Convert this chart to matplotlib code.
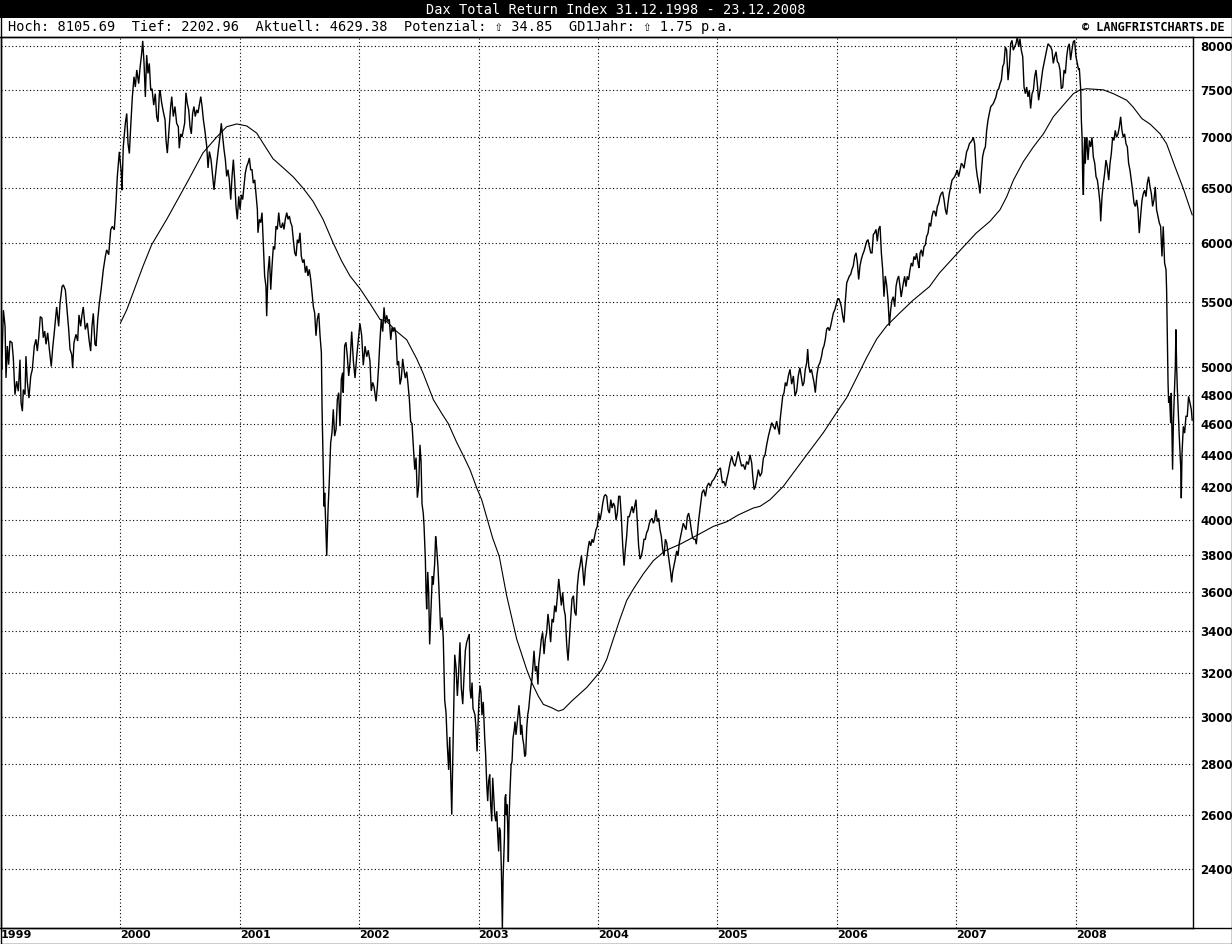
import matplotlib
matplotlib.use("Agg")
import matplotlib.pyplot as plt
from matplotlib.patches import Rectangle
from matplotlib.lines import Line2D

# Data (time in decimal years, index level)
price_t = [
    1999.000, 1999.006, 1999.020, 1999.034, 1999.042, 1999.053, 1999.064, 1999.075, 1999.092, 1999.103,
    1999.117, 1999.131, 1999.145, 1999.159, 1999.168, 1999.179, 1999.187, 1999.201, 1999.209, 1999.220,
    1999.234, 1999.249, 1999.262, 1999.279, 1999.293, 1999.304, 1999.316, 1999.329, 1999.343, 1999.354,
    1999.366, 1999.377, 1999.391, 1999.405, 1999.421, 1999.433, 1999.446, 1999.466, 1999.483, 1999.494,
    1999.511, 1999.522, 1999.539, 1999.553, 1999.567, 1999.578, 1999.592, 1999.600, 1999.611, 1999.628,
    1999.642, 1999.653, 1999.667, 1999.678, 1999.689, 1999.706, 1999.723, 1999.737, 1999.751, 1999.762,
    1999.773, 1999.787, 1999.796, 1999.810, 1999.823, 1999.838, 1999.857, 1999.874, 1999.885, 1999.902,
    1999.919, 1999.932, 1999.949, 1999.963, 1999.974, 1999.991, 2000.008, 2000.013, 2000.024, 2000.041,
    2000.053, 2000.064, 2000.075, 2000.086, 2000.100, 2000.114, 2000.125, 2000.137, 2000.153, 2000.164,
    2000.178, 2000.187, 2000.198, 2000.209, 2000.220, 2000.231, 2000.242, 2000.254, 2000.265, 2000.279,
    2000.292, 2000.304, 2000.315, 2000.326,
    2000.332, 2000.346, 2000.359, 2000.374, 2000.382, 2000.393, 2000.407, 2000.421, 2000.430, 2000.443,
    2000.457, 2000.471, 2000.485, 2000.493, 2000.505, 2000.516, 2000.527, 2000.538, 2000.549, 2000.560,
    2000.572, 2000.583, 2000.594, 2000.605, 2000.616, 2000.627, 2000.639, 2000.650, 2000.661, 2000.673,
    2000.684, 2000.695, 2000.709, 2000.723, 2000.734, 2000.745, 2000.759, 2000.773, 2000.784, 2000.795,
    2000.807, 2000.820, 2000.834, 2000.845, 2000.857, 2000.868, 2000.879, 2000.890, 2000.901, 2000.912,
    2000.924, 2000.935, 2000.946, 2000.957, 2000.968, 2000.979, 2000.991, 2001.002, 2001.013, 2001.024,
    2001.035, 2001.046, 2001.058, 2001.069, 2001.080, 2001.091, 2001.102, 2001.113, 2001.125, 2001.136,
    2001.147, 2001.152, 2001.164, 2001.175, 2001.186, 2001.197, 2001.208, 2001.219, 2001.225, 2001.236,
    2001.248, 2001.259, 2001.270, 2001.281, 2001.292, 2001.303, 2001.314, 2001.326, 2001.337, 2001.348,
    2001.359, 2001.370, 2001.381, 2001.393, 2001.404, 2001.415, 2001.426, 2001.437, 2001.448, 2001.460,
    2001.471, 2001.482, 2001.493, 2001.504, 2001.515, 2001.527, 2001.538, 2001.549, 2001.560, 2001.571,
    2001.582, 2001.594, 2001.605, 2001.616, 2001.627, 2001.638, 2001.649, 2001.661, 2001.672, 2001.683,
    2001.689, 2001.700, 2001.705, 2001.711, 2001.722, 2001.728, 2001.739, 2001.750, 2001.761, 2001.772,
    2001.783, 2001.794, 2001.806, 2001.817, 2001.828, 2001.839, 2001.850, 2001.861, 2001.866, 2001.878,
    2001.889, 2001.900, 2001.912, 2001.923,
    2001.937, 2001.951, 2001.965, 2001.979, 2001.993, 2002.006, 2002.021, 2002.034, 2002.049, 2002.063,
    2002.076, 2002.090, 2002.101, 2002.113, 2002.124, 2002.141, 2002.152, 2002.163, 2002.174, 2002.185,
    2002.197, 2002.208, 2002.219, 2002.230, 2002.241, 2002.252, 2002.264, 2002.275, 2002.286, 2002.297,
    2002.308, 2002.319, 2002.330, 2002.342, 2002.353, 2002.364, 2002.375, 2002.386, 2002.398, 2002.409,
    2002.420, 2002.431, 2002.442, 2002.453, 2002.465, 2002.476, 2002.487, 2002.498, 2002.509, 2002.518,
    2002.526, 2002.537, 2002.543, 2002.554, 2002.560, 2002.565, 2002.574, 2002.582, 2002.590, 2002.601,
    2002.612, 2002.620, 2002.632, 2002.640, 2002.648, 2002.660, 2002.671, 2002.682, 2002.693, 2002.704,
    2002.716, 2002.727, 2002.738, 2002.749, 2002.758, 2002.766, 2002.775, 2002.783, 2002.791, 2002.800,
    2002.811, 2002.822, 2002.833, 2002.844, 2002.855, 2002.867, 2002.878, 2002.889, 2002.900, 2002.911,
    2002.922,
    2002.928, 2002.936, 2002.945, 2002.953, 2002.962, 2002.970, 2002.978, 2002.987, 2002.995, 2003.003,
    2003.012, 2003.020, 2003.028, 2003.039, 2003.051, 2003.059, 2003.068, 2003.076, 2003.084, 2003.093,
    2003.101, 2003.110, 2003.118, 2003.126, 2003.135, 2003.143, 2003.152, 2003.160, 2003.168, 2003.174,
    2003.182, 2003.191, 2003.196, 2003.199, 2003.205, 2003.211, 2003.216, 2003.221, 2003.227, 2003.232,
    2003.238, 2003.244, 2003.249, 2003.255, 2003.263, 2003.272, 2003.280, 2003.288, 2003.297, 2003.305,
    2003.313, 2003.322, 2003.330, 2003.338, 2003.347, 2003.352, 2003.361, 2003.369, 2003.378, 2003.386,
    2003.394, 2003.403, 2003.411, 2003.420, 2003.430, 2003.439, 2003.447,
    2003.464, 2003.475, 2003.486, 2003.497, 2003.503, 2003.514, 2003.525, 2003.536, 2003.548, 2003.559,
    2003.570, 2003.581, 2003.592, 2003.603, 2003.615, 2003.626, 2003.637, 2003.648, 2003.659, 2003.671,
    2003.682, 2003.693, 2003.704, 2003.715, 2003.726, 2003.738, 2003.749, 2003.760, 2003.771, 2003.782,
    2003.794, 2003.805, 2003.816, 2003.827, 2003.838, 2003.849, 2003.861, 2003.872, 2003.883, 2003.894,
    2003.905, 2003.916, 2003.927, 2003.939, 2003.950, 2003.961, 2003.972, 2003.983, 2003.994, 2004.006,
    2004.017, 2004.028, 2004.040, 2004.051, 2004.062, 2004.073, 2004.084, 2004.095, 2004.107, 2004.118,
    2004.129, 2004.140, 2004.151, 2004.162, 2004.173, 2004.184, 2004.195, 2004.207, 2004.218, 2004.229,
    2004.240, 2004.251, 2004.262, 2004.274, 2004.285, 2004.296, 2004.307, 2004.318, 2004.329, 2004.340,
    2004.352, 2004.363, 2004.374, 2004.385, 2004.396, 2004.407, 2004.419, 2004.430, 2004.441, 2004.452,
    2004.463, 2004.474, 2004.486, 2004.497, 2004.508, 2004.519, 2004.530, 2004.541, 2004.553, 2004.564,
    2004.575, 2004.586, 2004.597, 2004.608, 2004.617, 2004.625, 2004.636, 2004.647, 2004.659, 2004.670,
    2004.681, 2004.692, 2004.703, 2004.714, 2004.725, 2004.737, 2004.748, 2004.759, 2004.770, 2004.781,
    2004.792, 2004.804, 2004.815, 2004.823, 2004.832, 2004.843, 2004.854, 2004.865,
    2004.871, 2004.885, 2004.899, 2004.913, 2004.927, 2004.941, 2004.955, 2004.969, 2004.983, 2004.997,
    2005.011, 2005.025, 2005.034, 2005.042, 2005.053, 2005.067, 2005.078, 2005.091, 2005.106, 2005.120,
    2005.133, 2005.147, 2005.162, 2005.175, 2005.189, 2005.203, 2005.217, 2005.231, 2005.245, 2005.259,
    2005.273, 2005.287, 2005.296, 2005.307, 2005.318, 2005.329, 2005.343, 2005.357, 2005.371, 2005.385,
    2005.399, 2005.413, 2005.427, 2005.441, 2005.455, 2005.468, 2005.482, 2005.496, 2005.510, 2005.519,
    2005.524, 2005.535, 2005.547, 2005.558, 2005.569, 2005.580, 2005.594, 2005.608, 2005.622, 2005.636,
    2005.650, 2005.664, 2005.677, 2005.691, 2005.706, 2005.714, 2005.725, 2005.736, 2005.748, 2005.756,
    2005.765, 2005.776, 2005.787, 2005.798, 2005.809, 2005.820, 2005.832, 2005.845, 2005.859, 2005.873,
    2005.882, 2005.893, 2005.904, 2005.915, 2005.927, 2005.938, 2005.949, 2005.960, 2005.971, 2005.983,
    2005.994, 2006.004, 2006.016, 2006.027, 2006.038, 2006.049, 2006.060, 2006.072, 2006.083, 2006.094,
    2006.105, 2006.116, 2006.127, 2006.138, 2006.150, 2006.161, 2006.172, 2006.183, 2006.194, 2006.205,
    2006.217, 2006.228, 2006.239, 2006.250, 2006.261, 2006.272, 2006.284, 2006.295, 2006.306, 2006.317,
    2006.328, 2006.339, 2006.350, 2006.362, 2006.373, 2006.384, 2006.395, 2006.406, 2006.417, 2006.429,
    2006.440, 2006.451, 2006.462, 2006.473, 2006.485, 2006.496, 2006.507, 2006.518, 2006.529,
    2006.539, 2006.557, 2006.568, 2006.579, 2006.590, 2006.601, 2006.613, 2006.624, 2006.635, 2006.646,
    2006.657, 2006.668, 2006.680, 2006.688, 2006.697, 2006.708, 2006.719, 2006.730, 2006.741, 2006.752,
    2006.764, 2006.775, 2006.786, 2006.797, 2006.808, 2006.819, 2006.830, 2006.842, 2006.853, 2006.864,
    2006.875, 2006.886, 2006.898, 2006.909, 2006.920, 2006.931, 2006.942, 2006.953, 2006.965, 2006.976,
    2006.987, 2006.998, 2007.009, 2007.020, 2007.032, 2007.043, 2007.054, 2007.065, 2007.076, 2007.087,
    2007.099, 2007.110, 2007.121, 2007.132, 2007.143, 2007.154, 2007.166, 2007.177, 2007.188, 2007.199,
    2007.210, 2007.221, 2007.233, 2007.244, 2007.255, 2007.266, 2007.277, 2007.289, 2007.300, 2007.311,
    2007.322, 2007.333, 2007.344, 2007.356, 2007.367, 2007.378, 2007.389, 2007.400, 2007.411, 2007.422,
    2007.434, 2007.445, 2007.456, 2007.467, 2007.478, 2007.489, 2007.500, 2007.512, 2007.523, 2007.534,
    2007.545, 2007.557, 2007.568, 2007.579, 2007.590, 2007.601, 2007.612, 2007.623, 2007.635, 2007.646,
    2007.657, 2007.668, 2007.679, 2007.690, 2007.702, 2007.713, 2007.724, 2007.735, 2007.746, 2007.757,
    2007.769, 2007.780, 2007.791, 2007.802, 2007.813, 2007.824, 2007.836, 2007.847, 2007.858, 2007.869,
    2007.880, 2007.892, 2007.903, 2007.914, 2007.925, 2007.936, 2007.947, 2007.958, 2007.969, 2007.980,
    2007.991, 2008.003, 2008.014, 2008.025,
    2008.031, 2008.043, 2008.048, 2008.054, 2008.059, 2008.065, 2008.070, 2008.076, 2008.081, 2008.087,
    2008.093, 2008.104, 2008.115, 2008.126, 2008.137, 2008.148, 2008.160, 2008.171, 2008.182, 2008.193,
    2008.204, 2008.210, 2008.221, 2008.232, 2008.243, 2008.254, 2008.265, 2008.277, 2008.288, 2008.299,
    2008.310, 2008.321, 2008.332, 2008.343, 2008.355, 2008.366, 2008.377, 2008.388, 2008.399, 2008.410,
    2008.422, 2008.433, 2008.444, 2008.455, 2008.466, 2008.477, 2008.489, 2008.500, 2008.511, 2008.522,
    2008.533, 2008.544, 2008.556, 2008.567, 2008.578, 2008.589, 2008.600, 2008.611, 2008.623, 2008.634,
    2008.645, 2008.656, 2008.667, 2008.678, 2008.690, 2008.701, 2008.712, 2008.723, 2008.734, 2008.745,
    2008.757, 2008.762, 2008.768, 2008.774, 2008.779, 2008.785, 2008.790, 2008.796, 2008.801, 2008.807,
    2008.812, 2008.818, 2008.826, 2008.835, 2008.840, 2008.846, 2008.851, 2008.860, 2008.868, 2008.880,
    2008.885, 2008.891, 2008.902, 2008.913, 2008.924, 2008.935, 2008.946, 2008.958, 2008.969, 2008.976,
]

price_v = [
    5108, 4984, 5437, 5310, 4924, 5159, 5020, 5197, 5184, 5070,
    4805, 4900, 4829, 5057, 4747, 4690, 4841, 4805, 5083, 4900,
    4781, 4936, 4984, 5159, 5210, 5121, 5222, 5386, 5373, 5222,
    5273, 5172, 5260, 5134, 5007, 5146, 5260, 5462, 5310, 5487,
    5627, 5641, 5599, 5437, 5285, 5134, 5096, 4995, 5184, 5248,
    5197, 5399, 5310, 5399, 5462, 5285, 5336, 5210, 5121, 5310,
    5411, 5172, 5159, 5361, 5487, 5599, 5769, 5881, 5938, 5896,
    6115, 6145, 6115, 6357, 6608, 6853, 6640, 6479, 6902, 7141,
    7248, 6934, 6836, 7106, 7426, 7648, 7534, 7724, 7572, 7742,
    7913, 8060, 7799, 7426, 7894, 7685, 7799, 7497, 7515, 7337,
    7461, 7213, 7160, 7457,
    7500, 7358, 7269, 7181, 6971, 6840, 7074, 7322, 7429, 7216,
    7322, 7145, 7109, 6889, 7035, 7003, 7074, 7145, 7471, 7358,
    7287, 7109, 7035, 7252, 7322, 7216, 7287, 7252, 7340, 7429,
    7322, 7181, 7056, 6905, 6693, 6856, 6775, 6611, 6482, 6611,
    6742, 6873, 7003, 7145, 7003, 6873, 6775, 6611, 6676, 6578,
    6391, 6611, 6775, 6578, 6330, 6209, 6421, 6300, 6436, 6391,
    6513, 6644, 6709, 6742, 6791, 6676, 6676, 6546, 6578, 6436,
    6300, 6088, 6209, 6179, 6270, 5997, 5715, 5630, 5389, 5743,
    5884, 5602, 5800, 5969, 5941, 6148, 6118, 6270, 6148, 6133,
    6179, 6118, 6209, 6270, 6209, 6239, 6179, 6148, 6027, 5912,
    5884, 6027, 5997, 6088, 5884, 5828, 5856, 5743, 5800, 5715,
    5771, 5686, 5574, 5464, 5414, 5237, 5364, 5414, 5237, 5111,
    4703, 4264, 4081, 4162, 3926, 3796, 4061, 4244, 4478, 4545,
    4703, 4522, 4567, 4772, 4819, 4589, 4914, 4962, 4819, 5161,
    5187, 5085, 4938, 5036,
    5269, 5047, 4923, 5079, 5206, 5332, 5237, 5016, 5158, 5079,
    5127, 5047, 4831, 4892, 4861, 4758, 4861, 5016, 5206, 5364,
    5269, 5459, 5332, 5396, 5348, 5364, 5206, 5301, 5269, 5301,
    5237, 5016, 5047, 4877, 4923, 5063, 4985, 4923, 4969, 4877,
    4772, 4619, 4606, 4465, 4306, 4382, 4133, 4205, 4465, 4357,
    4096, 4036, 3965, 3777, 3594, 3511, 3708, 3594, 3335, 3511,
    3685, 3639, 3754, 3906, 3847, 3731, 3573, 3406, 3469, 3366,
    3074, 3019, 2878, 2776, 2913, 2759, 2600, 2792, 3019, 3285,
    3224, 3093, 3204, 3345, 3130, 3056, 3185, 3305, 3345, 3366,
    3386,
    3125, 3081, 3154, 3037, 3022, 3007, 2951, 2852, 2965, 3081,
    3140, 3110, 3007, 3066, 2908, 2838, 2718, 2652, 2731, 2757,
    2639, 2575, 2744, 2678, 2600, 2575, 2613, 2526, 2464, 2551,
    2538, 2391, 2258, 2203, 2369, 2452, 2513, 2665, 2678, 2600,
    2639, 2551, 2427, 2588, 2692, 2796, 2810, 2908, 2937, 2979,
    2922, 2965, 3007, 3051, 2993, 2922, 2965, 2908, 2880, 2831,
    2838, 2951, 3007, 3037, 3096, 3140, 3169,
    3304, 3206, 3231, 3145, 3239, 3296, 3361, 3394, 3288, 3361,
    3394, 3487, 3427, 3346, 3461, 3444, 3530, 3496, 3573, 3670,
    3598, 3530, 3598, 3513, 3479, 3331, 3257, 3361, 3461, 3564,
    3581, 3496, 3479, 3634, 3706, 3742, 3796, 3724, 3634, 3724,
    3778, 3833, 3879, 3852, 3889, 3870, 3907, 3944, 3963, 4041,
    4000, 4041, 4101, 4141, 4152, 4141, 4061, 4041, 4121, 4071,
    4101, 4081, 4000, 4041, 4141, 4141, 4020, 3852, 3742, 3833,
    3907, 4020, 4020, 4051, 4081, 4041, 4081, 4121, 3991, 3852,
    3778, 3796, 3833, 3889, 3889, 3926, 3944, 3981, 4000, 4010,
    3981, 4000, 4061, 3991, 4010, 3944, 3907, 3833, 3796, 3889,
    3870, 3815, 3760, 3706, 3652, 3706, 3742, 3778, 3824, 3796,
    3870, 3907, 3944, 3981, 3963, 3944, 4020, 4041, 4000, 3944,
    3898, 3889, 3889, 3861, 3926, 4000, 4061, 4121,
    4162, 4182, 4141, 4202, 4223, 4202, 4233, 4244, 4264, 4286,
    4306, 4317, 4264, 4223, 4233, 4202, 4244, 4286, 4348, 4391,
    4348, 4327, 4379, 4422, 4369, 4327, 4338, 4306, 4358, 4338,
    4400, 4348, 4264, 4182, 4202, 4244, 4306, 4264, 4286, 4379,
    4400, 4467, 4522, 4567, 4612, 4589, 4567, 4623, 4567, 4533,
    4623, 4703, 4795, 4819, 4891, 4866, 4938, 4986, 4879, 4938,
    4795, 4831, 4938, 4998, 4914, 4866, 4891, 4986, 5036, 5136,
    5010, 4962, 4986, 4938, 4891, 4819, 4938, 5010, 5036, 5086,
    5136, 5161, 5212, 5288, 5301, 5276, 5314, 5364, 5414, 5439,
    5477, 5517, 5531, 5503, 5464, 5389, 5339, 5517, 5658, 5686,
    5715, 5729, 5771, 5800, 5884, 5912, 5828, 5686, 5800, 5856,
    5898, 5927, 5969, 6012, 6027, 5969, 5912, 5912, 6073, 6088,
    6118, 6012, 6118, 6148, 5912, 5771, 5545, 5715, 5644, 5517,
    5314, 5439, 5517, 5545, 5464, 5630, 5686, 5715, 5630,
    5542, 5655, 5712, 5627, 5712, 5684, 5769, 5825, 5797, 5881,
    5853, 5909, 5825, 5782, 5909, 5938, 5881, 5966, 5980, 6055,
    6085, 6176, 6145, 6236, 6282, 6282, 6236, 6327, 6357, 6418,
    6448, 6464, 6388, 6297, 6252, 6357, 6448, 6510, 6575, 6591,
    6608, 6640, 6673, 6608, 6673, 6739, 6722, 6690, 6772, 6853,
    6886, 6934, 6951, 6968, 7000, 6934, 6706, 6608, 6543, 6448,
    6640, 6804, 6870, 6902, 7071, 7177, 7248, 7319, 7337, 7355,
    7390, 7426, 7497, 7515, 7572, 7610, 7761, 7799, 7989, 7951,
    7610, 7761, 8026, 8066, 7951, 7989, 8026, 8106, 7989, 8085,
    7951, 7875, 7534, 7461, 7534, 7426, 7497, 7301, 7461, 7497,
    7648, 7724, 7572, 7390, 7497, 7610, 7724, 7799, 7875, 7951,
    8026, 8008, 7989, 7951, 7799, 7875, 7932, 7818, 7799, 7724,
    7515, 7534, 7724, 7685, 7875, 7989, 8026, 7837, 7951, 8047,
    8066, 7875, 7799, 7724,
    7742, 7497, 7177, 7000, 6608, 6434, 6836, 7000, 6738, 6902,
    7000, 6771, 6968, 6902, 7000, 6804, 6738, 6608, 6575, 6479,
    6357, 6191, 6418, 6543, 6640, 6771, 6706, 6575, 6738, 6836,
    7000, 6968, 7071, 7000, 7035, 7106, 7213, 7071, 7000, 7035,
    6934, 6902, 6738, 6673, 6575, 6479, 6357, 6327, 6388, 6297,
    6085, 6236, 6388, 6448, 6479, 6418, 6543, 6608, 6510, 6448,
    6327, 6388, 6510, 6297, 6236, 6176, 6145, 5881, 6145, 5825,
    5769, 5599, 5235, 4888, 4747, 4793, 4724, 4609, 4817, 4520,
    4306, 4587, 4793, 5007, 5285, 5007, 4864, 4681, 4520, 4325,
    4130, 4409, 4587, 4542, 4655, 4655, 4793, 4747, 4701, 4629,
]

# one-year moving average (GD1Jahr)
ma_t = [
    2000.003, 2000.053, 2000.106, 2000.189, 2000.262, 2000.388, 2000.555, 2000.692, 2000.807, 2000.890,
    2000.974, 2001.058, 2001.142, 2001.194, 2001.278, 2001.362, 2001.446, 2001.529, 2001.613, 2001.697,
    2001.781, 2001.853, 2001.923, 2002.007, 2002.090, 2002.174, 2002.230, 2002.314, 2002.398, 2002.482,
    2002.537, 2002.621, 2002.691, 2002.746, 2002.817, 2002.872, 2002.928, 2002.984, 2003.026, 2003.068,
    2003.118, 2003.173, 2003.235, 2003.319, 2003.403, 2003.445, 2003.500, 2003.542, 2003.612, 2003.668,
    2003.709, 2003.780, 2003.905, 2003.975, 2004.031, 2004.073, 2004.128, 2004.184, 2004.240, 2004.296,
    2004.379, 2004.463, 2004.561, 2004.687, 2004.827, 2004.966, 2005.078, 2005.175, 2005.301, 2005.357,
    2005.441, 2005.552, 2005.636, 2005.748, 2005.887, 2005.999, 2006.083, 2006.167, 2006.250, 2006.334,
    2006.418, 2006.524, 2006.636, 2006.776, 2006.859, 2006.999, 2007.167, 2007.283, 2007.367, 2007.423,
    2007.479, 2007.562, 2007.646, 2007.730, 2007.813, 2007.897, 2007.981, 2008.037, 2008.093, 2008.232,
    2008.316, 2008.428, 2008.480, 2008.555, 2008.625, 2008.708, 2008.762, 2008.832, 2008.902, 2008.976,
]
ma_v = [
    5341, 5439, 5576, 5797, 5983, 6209, 6545, 6843, 7003, 7109,
    7138, 7117, 7043, 6941, 6784, 6696, 6608, 6500, 6375, 6209,
    6000, 5841, 5715, 5610, 5490, 5364, 5348, 5270, 5206, 5063,
    4954, 4770, 4675, 4606, 4480, 4395, 4306, 4193, 4120, 4016,
    3895, 3793, 3581, 3361, 3214, 3154, 3092, 3055, 3040, 3025,
    3032, 3070, 3131, 3176, 3214, 3263, 3361, 3461, 3556, 3616,
    3697, 3769, 3824, 3861, 3911, 3963, 3990, 4030, 4071, 4081,
    4121, 4202, 4286, 4400, 4545, 4682, 4784, 4927, 5073, 5212,
    5314, 5412, 5514, 5627, 5740, 5896, 6085, 6191, 6297, 6418,
    6575, 6755, 6902, 7035, 7213, 7337, 7461, 7503, 7515, 7503,
    7461, 7390, 7319, 7194, 7135, 7035, 6934, 6706, 6494, 6250,
]

years = list(range(1999, 2009))
y_ticks = [2400, 2600, 2800, 3000, 3200, 3400, 3600, 3800, 4000, 4200, 4400,
           4600, 4800, 5000, 5500, 6000, 6500, 7000, 7500, 8000]

title = "Dax Total Return Index 31.12.1998 - 23.12.2008"
stats = "Hoch: 8105.69  Tief: 2202.96  Aktuell: 4629.38  Potenzial: \u21e7 34.85  GD1Jahr: \u21e7 1.75 p.a."
copyright_txt = "\u00a9 LANGFRISTCHARTS.DE"

W, H = 1232, 944
fig = plt.figure(figsize=(W / 100, H / 100), dpi=100)
fig.patch.set_facecolor("white")

ax = fig.add_axes([1 / W, (H - 928) / H, 1192 / W, (928 - 37) / H])
ax.plot(price_t, price_v, color="black", lw=1.0, solid_joinstyle="miter")
ax.plot(ma_t, ma_v, color="black", lw=0.8)

ax.set_yscale("log")
ax.set_ylim(2202.96, 8105.69)
ax.set_xlim(1999.0, 2008.983)
ax.set_yticks(y_ticks)
ax.set_yticklabels([str(v) for v in y_ticks])
ax.minorticks_off()
ax.yaxis.tick_right()
ax.set_xticks(years)
ax.set_xticklabels([str(y) for y in years], ha="left")
ax.tick_params(axis="y", length=0, pad=5, labelsize=8.5)
ax.tick_params(axis="x", length=0, pad=1.5, labelsize=8)
for lab in ax.get_xticklabels() + ax.get_yticklabels():
    lab.set_fontweight("bold")

ax.grid(True, color="black", linestyle=(0, (1, 2.2)), lw=0.8)
for s in ax.spines.values():
    s.set_linewidth(1.0)

# title bar and header row
fig.add_artist(Rectangle((0, 1 - 18 / H), 1, 18 / H, transform=fig.transFigure,
                         facecolor="black", edgecolor="none"))
fig.text(0.5, 1 - 9.5 / H, title, color="white", ha="center", va="center",
         fontsize=9.8, family=["DejaVu Sans Mono", "DejaVu Sans"])
fig.text(8 / W, 1 - 27.5 / H, stats, color="black", ha="left", va="center",
         fontsize=9.8, family=["DejaVu Sans Mono", "DejaVu Sans"])
fig.text(1225 / W, 1 - 27.5 / H, copyright_txt, color="black", ha="right", va="center",
         fontsize=8.6, fontweight="bold", family=["DejaVu Sans Mono", "DejaVu Sans"])

# frame lines across the whole picture
for yy in (37, 928):
    fig.add_artist(Line2D([0, 1], [1 - yy / H, 1 - yy / H], color="black", lw=1.0,
                          transform=fig.transFigure))
fig.add_artist(Rectangle((0.5 / W, 0.5 / H), 1 - 1 / W, 1 - 1 / H, transform=fig.transFigure,
                         facecolor="none", edgecolor="black", lw=1.0))

fig.savefig("out.png", dpi=100)
